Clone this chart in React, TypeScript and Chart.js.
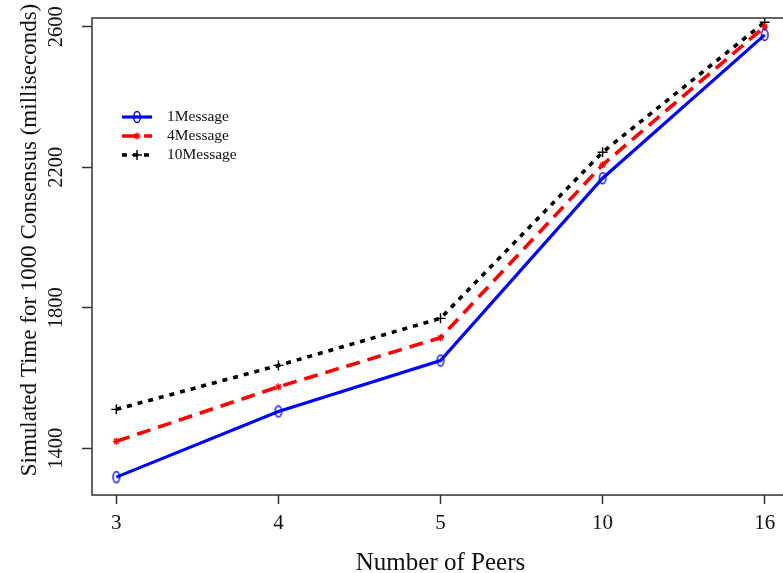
import React, { useEffect, useRef } from "react";
import { Chart, registerables } from "chart.js";
Chart.register(...registerables);

const CATEGORIES = ["3", "4", "5", "10", "16"];
const SERIES_NAMES = ["1Message", "4Message", "10Message"];
const MSG1 = [1318, 1505, 1650, 2169, 2577];
const MSG4 = [1420, 1575, 1715, 2207, 2600];
const MSG10 = [1511, 1636, 1770, 2243, 2613];
const Y_TICKS = [1400, 1800, 2200, 2600];
const X_TITLE = "Number of Peers";
const Y_TITLE = "Simulated Time for 1000 Consensus (milliseconds)";

const FONT = "'Liberation Serif', 'Times New Roman', serif";
const BLUE = "#0000ff";
const RED = "#ff0000";
const BLACK = "#000000";

function makeEllipse(color: string) {
  const c = document.createElement("canvas");
  c.width = 10;
  c.height = 14;
  const ctx = c.getContext("2d")!;
  ctx.strokeStyle = color;
  ctx.lineWidth = 1.4;
  ctx.beginPath();
  ctx.ellipse(5, 7, 3.3, 5.5, 0, 0, Math.PI * 2);
  ctx.stroke();
  return c;
}

export default function App() {
  const ref = useRef<HTMLCanvasElement>(null);
  useEffect(() => {
    const ellipse = makeEllipse(BLUE);
    const toPts = (arr: number[]) => arr.map((v, i) => ({ x: i, y: v }));

    const decor = {
      id: "decor",
      afterDraw(chart: any) {
        const ctx = chart.ctx;
        const a = chart.chartArea;
        const ys = chart.scales.y;
        ctx.save();
        // frame
        ctx.strokeStyle = "#333";
        ctx.lineWidth = 1.5;
        ctx.setLineDash([]);
        ctx.strokeRect(a.left, a.top, a.right - a.left, a.bottom - a.top);
        // y tick labels (rotated)
        ctx.fillStyle = "#111";
        ctx.font = `20.5px ${FONT}`;
        ctx.textAlign = "center";
        ctx.textBaseline = "alphabetic";
        for (const t of ys.ticks) {
          const py = ys.getPixelForValue(t.value);
          ctx.save();
          ctx.translate(62, py);
          ctx.rotate(-Math.PI / 2);
          ctx.fillText(String(t.value), 0, 0);
          ctx.restore();
        }
        // y title
        ctx.font = `23px ${FONT}`;
        ctx.save();
        ctx.translate(36, 240);
        ctx.rotate(-Math.PI / 2);
        ctx.fillText(Y_TITLE, 0, 0);
        ctx.restore();
        // legend
        const lx0 = a.left + 30;
        const lx1 = a.left + 60;
        const ly = a.top + 99;
        const gap = 19;
        chart.data.datasets.forEach((ds: any, i: number) => {
          const y = ly + i * gap;
          ctx.strokeStyle = ds.borderColor;
          ctx.lineWidth = ds.borderWidth;
          ctx.lineCap = "butt";
          ctx.setLineDash(ds.borderDash || []);
          ctx.beginPath();
          ctx.moveTo(lx0, y);
          ctx.lineTo(lx1, y);
          ctx.stroke();
          ctx.setLineDash([]);
          const cx = (lx0 + lx1) / 2;
          if (i === 0) {
            ctx.drawImage(ellipse, cx - 5, y - 7);
          } else if (i === 1) {
            ctx.lineWidth = 1.3;
            ctx.strokeStyle = RED;
            ctx.beginPath();
            for (let k = 0; k < 4; k++) {
              const ang = (k * Math.PI) / 4;
              ctx.moveTo(cx - 3.5 * Math.cos(ang), y - 3.5 * Math.sin(ang));
              ctx.lineTo(cx + 3.5 * Math.cos(ang), y + 3.5 * Math.sin(ang));
            }
            ctx.stroke();
          } else {
            ctx.lineWidth = 1.4;
            ctx.strokeStyle = BLACK;
            ctx.beginPath();
            ctx.moveTo(cx - 5, y);
            ctx.lineTo(cx + 5, y);
            ctx.moveTo(cx, y - 5);
            ctx.lineTo(cx, y + 5);
            ctx.stroke();
          }
          ctx.fillStyle = "#111";
          ctx.font = `15.5px ${FONT}`;
          ctx.textAlign = "left";
          ctx.textBaseline = "middle";
          ctx.fillText(ds.label, a.left + 75, y);
        });
        ctx.restore();
      },
    };

    const chart = new Chart(ref.current!, {
      type: "line",
      data: {
        datasets: [
          {
            label: SERIES_NAMES[0],
            data: toPts(MSG1),
            borderColor: BLUE,
            borderWidth: 3.2,
            pointStyle: ellipse as any,
            pointRadius: 5,
            tension: 0,
          },
          {
            label: SERIES_NAMES[1],
            data: toPts(MSG4),
            borderColor: RED,
            borderWidth: 3.6,
            borderDash: [14, 8],
            pointStyle: "star",
            pointRadius: 3.5,
            pointBorderWidth: 1.3,
            pointBorderColor: RED,
            pointBackgroundColor: RED,
            tension: 0,
          },
          {
            label: SERIES_NAMES[2],
            data: toPts(MSG10),
            borderColor: BLACK,
            borderWidth: 3.6,
            borderDash: [5, 6],
            pointStyle: "cross",
            pointRadius: 5,
            pointBorderWidth: 1.4,
            pointBorderColor: BLACK,
            tension: 0,
          },
        ],
      },
      options: {
        responsive: false,
        animation: false,
        layout: { padding: { left: 82, right: 11, top: 18, bottom: 0 } },
        plugins: { legend: { display: false }, tooltip: { enabled: false } },
        scales: {
          x: {
            type: "linear",
            min: -0.15,
            max: 4.15,
            afterBuildTicks: (s: any) => {
              s.ticks = CATEGORIES.map((_, i) => ({ value: i }));
            },
            ticks: {
              callback: (v: any) => CATEGORIES[Math.round(Number(v))],
              font: { family: FONT, size: 21 },
              color: "#111",
              padding: 7,
              autoSkip: false,
              maxRotation: 0,
            },
            grid: { drawOnChartArea: false, tickLength: 9, tickColor: "#333", tickWidth: 1.5 },
            border: { display: false },
            title: {
              display: true,
              text: X_TITLE,
              color: "#111",
              font: { family: FONT, size: 25, lineHeight: 0.75 },
              padding: { top: 11, bottom: 0 },
            },
          },
          y: {
            type: "linear",
            min: 1267,
            max: 2625,
            afterBuildTicks: (s: any) => {
              s.ticks = Y_TICKS.map((v) => ({ value: v }));
            },
            ticks: { display: false },
            grid: { drawOnChartArea: false, tickLength: 10, tickColor: "#333", tickWidth: 1.5 },
            border: { display: false },
          },
        },
      },
      plugins: [decor],
    });
    return () => chart.destroy();
  }, []);

  return (
    <div style={{ position: "fixed", left: 0, top: 0, width: 783, height: 573, overflow: "hidden", background: "#fff" }}>
      <canvas ref={ref} width={800} height={573} style={{ width: 800, height: 573, display: "block" }} />
    </div>
  );
}
